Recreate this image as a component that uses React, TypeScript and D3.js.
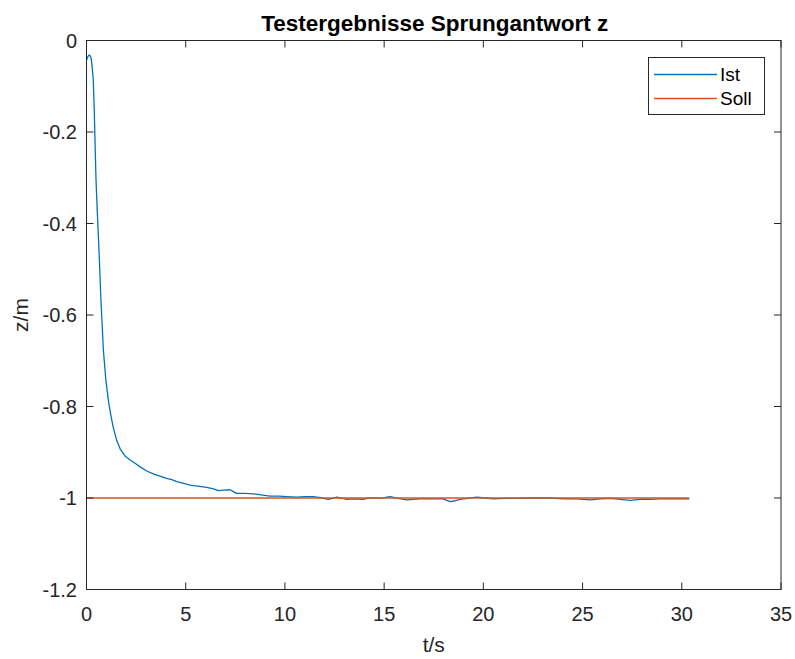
import React from "react";
import * as d3 from "d3";

const title = "Testergebnisse Sprungantwort z";
const xLabel = "t/s";
const yLabel = "z/m";
const xTicks = [0, 5, 10, 15, 20, 25, 30, 35];
const yTicks = [0, -0.2, -0.4, -0.6, -0.8, -1, -1.2];
const seriesNames = ["Ist", "Soll"];

const istT = [0, 0.06, 0.13, 0.18, 0.23, 0.28, 0.34, 0.39, 0.44, 0.48, 0.55, 0.63, 0.72, 0.85, 0.97, 1.1, 1.22, 1.35, 1.52, 1.7, 1.94, 2.2, 2.45, 2.7, 3.03, 3.4, 3.7, 4.04, 4.3, 4.55, 4.9, 5.22, 5.6, 6.06, 6.4, 6.64, 6.9, 7.23, 7.4, 7.57, 8.0, 8.41, 8.8, 9.25, 9.7, 10.09, 10.6, 11.0, 11.43, 11.8, 12.17, 12.4, 12.61, 12.9, 13.12, 13.5, 13.94, 14.29, 14.79, 15.3, 15.7, 16.14, 16.8, 17.47, 17.97, 18.32, 18.6, 18.83, 19.2, 19.67, 20.1, 20.5, 21.1, 21.68, 22.4, 23.2, 23.6, 24.03, 24.7, 25.38, 25.9, 26.39, 26.9, 27.4, 27.9, 28.4, 28.9, 29.41, 29.9, 30.38];
const istZ = [-0.043, -0.036, -0.032, -0.033, -0.038, -0.055, -0.086, -0.15, -0.239, -0.305, -0.38, -0.458, -0.56, -0.676, -0.74, -0.786, -0.818, -0.846, -0.874, -0.893, -0.908, -0.917, -0.924, -0.932, -0.941, -0.948, -0.952, -0.957, -0.96, -0.964, -0.968, -0.972, -0.974, -0.977, -0.98, -0.984, -0.983, -0.982, -0.986, -0.99, -0.99, -0.991, -0.993, -0.996, -0.996, -0.997, -0.998, -0.997, -0.997, -0.999, -1.003, -1.001, -0.998, -1.001, -1.003, -1.002, -1.003, -0.999, -1.001, -0.997, -1.001, -1.004, -1.002, -1.002, -1.002, -1.008, -1.006, -1.003, -1.001, -0.998, -1.0, -1.002, -1.001, -1.001, -1.0, -1.0, -1.001, -1.002, -1.002, -1.004, -1.002, -1.001, -1.003, -1.005, -1.003, -1.003, -1.002, -1.002, -1.002, -1.002];
const sollT = [0, 30.38];
const sollZ = [-1, -1];

const W = 795;
const H = 659;
const left = 86.5;
const right = 781;
const top = 40.5;
const bottom = 589.5;
const axisColor = "#262626";
const font = "'Liberation Sans', Arial, Helvetica, sans-serif";

export default function App() {
  const x = d3.scaleLinear().domain([0, 35]).range([left, right]);
  const y = d3.scaleLinear().domain([-1.2, 0]).range([bottom, top]);
  const line = d3
    .line<[number, number]>()
    .x((d) => x(d[0]))
    .y((d) => y(d[1]));
  const istData: [number, number][] = istT.map((t, i) => [t, istZ[i]]);
  const sollData: [number, number][] = sollT.map((t, i) => [t, sollZ[i]]);
  const tickLen = 7;
  const colors = ["#0072BD", "#D95319"];
  const legX = 648.5;
  const legY = 57.5;
  const legW = 116;
  const legH = 57;

  return (
    <svg
      width={W}
      height={H}
      style={{ position: "absolute", left: 0, top: 0, background: "#fff" }}
      fontFamily={font}
    >
      <rect x={0} y={0} width={W} height={H} fill="#fff" />
      <defs>
        <clipPath id="clip">
          <rect x={left} y={top} width={right - left} height={bottom - top} />
        </clipPath>
      </defs>
      <g clipPath="url(#clip)">
        <path d={line(istData) || ""} fill="none" stroke={colors[0]} strokeWidth={1.3} strokeLinejoin="round" />
        <path d={line(sollData) || ""} fill="none" stroke={colors[1]} strokeWidth={1.3} />
      </g>
      {/* box */}
      <rect x={left} y={top} width={right - left} height={bottom - top} fill="none" stroke={axisColor} strokeWidth={1} />
      {xTicks.map((t) => (
        <g key={"xt" + t}>
          <line x1={x(t)} x2={x(t)} y1={bottom} y2={bottom - tickLen} stroke={axisColor} />
          <line x1={x(t)} x2={x(t)} y1={top} y2={top + tickLen} stroke={axisColor} />
          <text x={x(t)} y={621} textAnchor="middle" fontSize={20} fill={axisColor}>
            {String(t)}
          </text>
        </g>
      ))}
      {yTicks.map((v) => (
        <g key={"yt" + v}>
          <line x1={left} x2={left + tickLen} y1={y(v)} y2={y(v)} stroke={axisColor} />
          <line x1={right} x2={right - tickLen} y1={y(v)} y2={y(v)} stroke={axisColor} />
          <text x={77} y={y(v) + 7} textAnchor="end" fontSize={20} fill={axisColor}>
            {String(v)}
          </text>
        </g>
      ))}
      <text x={(left + right) / 2 + 1} y={31} textAnchor="middle" fontSize={22.5} fontWeight="bold" fill="#000">
        {title}
      </text>
      <text x={(left + right) / 2} y={652} textAnchor="middle" fontSize={21} fill={axisColor}>
        {xLabel}
      </text>
      <text
        transform={`translate(28,${(top + bottom) / 2}) rotate(-90)`}
        textAnchor="middle"
        fontSize={21}
        fill={axisColor}
      >
        {yLabel}
      </text>
      <rect x={legX} y={legY} width={legW} height={legH} fill="#fff" stroke={axisColor} strokeWidth={1} />
      {seriesNames.map((n, i) => (
        <g key={n}>
          <line x1={654} x2={717} y1={74.5 + i * 24} y2={74.5 + i * 24} stroke={colors[i]} strokeWidth={1.3} />
          <text x={720} y={81 + i * 24} fontSize={19} fill="#000">
            {n}
          </text>
        </g>
      ))}
    </svg>
  );
}
